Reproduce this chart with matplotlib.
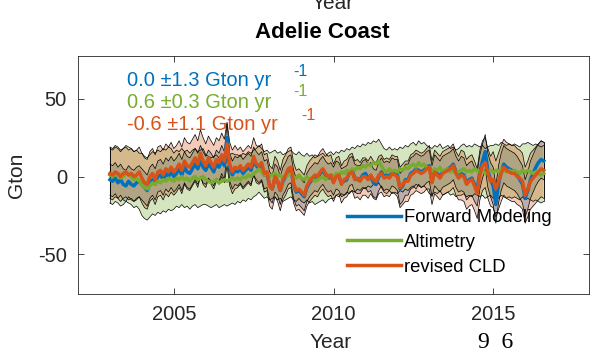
import numpy as np
import matplotlib
matplotlib.use("Agg")
import matplotlib.pyplot as plt

plt.rcParams['font.family'] = ['Liberation Sans', 'DejaVu Sans']
plt.rcParams['axes.unicode_minus'] = False

# Monthly mass anomalies (Gton), Jan 2003 - Aug 2016
start_year = 2003
forward_modeling = [
    -2, -3, -1, -4, -2, -5, -6, -3, -5, -6, -4, -3,
    -5, -7, -9, -4, -2, -5, 0, 1, -2, 2, 0, 3,
    0, 2, 5, 1, 6, 3, 2, 5, 8, 5, 10, 6,
    4, 8, 6, 3, 8, 6, 11, 7, 25, 6, 1, 4,
    3, 5, 2, 4, 6, 4, 10, 7, 5, 7, 1, 2,
    -6, -8, -1, -3, -9, -3, 0, 4, 5, -5, -10, -9,
    -11, -13, -7, -4, -2, 0, -1, 2, 4, 1, -1, 0,
    -3, 1, 0, -4, -3, -2, 3, 4, -1, -2, -2, 1,
    2, -1, 0, -4, -5, 0, 3, 0, 1, 0, 3, 2,
    1, -8, -6, -2, -2, 2, 3, 5, 4, 3, 4, 6,
    7, -3, 4, 2, 0, 3, 4, 5, 6, 8, 3, 0,
    2, 1, -4, -2, -1, -5, -8, 3, 10, 16, 4, -2,
    -6, -18, -5, 3, 8, 6, 5, 4, 3, 1, -2, -5,
    -14, -9, -2, 2, 6, 9, 11, 10,
]
altimetry = [
    1, 0, 2, 1, -1, 0, 2, 1, 0, -2, -1, -3,
    -5, -7, -8, -6, -4, -5, -3, -4, -2, -3, -1, -2,
    -3, -1, -2, 0, -2, -1, -3, -1, 0, -2, -1, 0,
    -2, -3, -4, -3, -2, -4, -3, -2, -3, -2, -1, -2,
    -1, -2, 0, -1, 1, 0, 2, 3, 5, 3, 1, 2,
    0, 1, 2, 0, 1, -1, 0, 1, 2, 0, -1, 1,
    -1, -2, 0, -2, -1, -3, -2, -1, 0, -2, 0, 1,
    0, 2, 1, 3, 2, 4, 3, 5, 4, 6, 5, 7,
    6, 8, 7, 9, 8, 10, 7, 4, 3, 5, 3, 4,
    3, 5, 4, 6, 5, 7, 8, 6, 9, 7, 8, 6,
    4, 3, 5, 4, 6, 3, 4, 5, 3, 4, 2, 3,
    4, 5, 3, 4, 3, 5, 4, 3, 4, 2, 3, 4,
    3, 4, 3, 5, 4, 3, 4, 3, 4, 3, 2, 4,
    3, 4, 3, 2, 3, 2, 1, 2,
]
revised_cld = [
    2, 1, 3, 2, 0, 2, 3, 1, 2, 0, 1, 3,
    -1, -4, -5, 0, 2, -2, 3, 4, 1, 5, 3, 6,
    3, 5, 8, 4, 10, 7, 6, 9, 12, 8, 15, 10,
    7, 12, 9, 6, 11, 9, 14, 10, 21, 8, 3, 6,
    5, 7, 4, 6, 8, 6, 13, 8, 7, 9, 2, 3,
    -6, -8, 0, -3, -9, -2, 1, 5, 6, -4, -9, -8,
    -10, -12, -6, -3, -1, 1, 0, 3, 5, 2, 0, 1,
    -4, 0, 1, -5, -2, -1, 2, 3, -2, -1, -3, 0,
    0, -2, 1, -2, -3, 1, 2, -1, 0, -1, 2, 1,
    0, -7, -5, -3, -3, 1, 2, 4, 3, 2, 3, 5,
    6, -4, 3, 1, -1, 2, 3, 4, 5, 7, 2, -1,
    1, 0, -5, -3, -2, -6, -11, 1, 7, 9, 2, -3,
    -2, -8, -3, 2, 6, 4, 3, 2, 2, 0, -1, -3,
    -12, -8, -3, -1, 1, 3, 5, 4,
]

# Yearly 1-sigma uncertainty (Gton), 2003 - 2016
err_forward = [10, 10, 10, 9, 9, 9, 9, 9, 9, 10, 10, 11, 12, 12]
err_altimetry = [18, 20, 18, 16, 15, 15, 15, 14, 14, 14, 15, 16, 17, 18]
err_cld = [16, 16, 15, 14, 12, 13, 13, 12, 12, 13, 14, 16, 18, 18]

series_names = ['Forward Modeling', 'Altimetry', 'revised CLD']
trend_labels = ['0.0 \u00b11.3 Gton yr', '0.6 \u00b10.3 Gton yr', '-0.6 \u00b11.1 Gton yr']
colors = ['#0072BD', '#77AC30', '#D95319']

n = len(revised_cld)
t = start_year + np.arange(n) / 12.0
year_idx = (np.floor(t) - start_year).astype(int)

values = [np.array(forward_modeling, float), np.array(altimetry, float),
          np.array(revised_cld, float)]
errors = [np.array(err_forward, float)[year_idx],
          np.array(err_altimetry, float)[year_idx],
          np.array(err_cld, float)[year_idx]]

fig = plt.figure(figsize=(5.9, 3.55), dpi=100)
ax = fig.add_axes([78 / 590, 1 - 294 / 355, 511 / 590, (294 - 56) / 355])

for v, e, c in zip(values, errors, colors):
    ax.fill_between(t, v - e, v + e, facecolor=c, alpha=0.3,
                    edgecolor='none', zorder=1)
    ax.plot(t, v + e, color='black', lw=0.5, zorder=2)
    ax.plot(t, v - e, color='black', lw=0.5, zorder=2)
    ax.plot([t[0], t[0]], [v[0] - e[0], v[0] + e[0]], color='black', lw=0.5, zorder=2)
    ax.plot([t[-1], t[-1]], [v[-1] - e[-1], v[-1] + e[-1]], color='black', lw=0.5, zorder=2)

handles = []
for v, c, name in zip(values, colors, series_names):
    h, = ax.plot(t, v, color=c, lw=2.5, zorder=3, label=name)
    handles.append(h)

ax.set_xlim(2002, 2018)
ax.set_ylim(-75.5, 77.5)
ax.set_xticks([2005, 2010, 2015])
ax.set_yticks([-50, 0, 50])
gray = '#262626'
ax.tick_params(direction='in', top=True, right=True, length=4, width=0.6,
               colors=gray, labelsize=14.5, pad=8)
for s in ax.spines.values():
    s.set_color('#262626')
    s.set_linewidth(0.6)
ax.set_ylabel('Gton', fontsize=15, color=gray)
ax.yaxis.set_label_coords(-(78 - 26) / 511, 0.5)

# trend annotations with detached superscripts
text_pos = [(127, 80), (127, 102), (127, 125)]
sup_pos = [(293, 71), (293, 92), (301, 116)]
for (px, py), (sx, sy), lab, c in zip(text_pos, sup_pos, trend_labels, colors):
    fig.text(px / 590, 1 - py / 355, lab, color=c, fontsize=14.5,
             ha='left', va='center')
    fig.text(sx / 590, 1 - sy / 355, '-1', color=c, fontsize=11.5,
             ha='left', va='center')

leg = ax.legend(handles=handles, loc='upper left',
                bbox_to_anchor=((347 - 78) / 511, (294 - 209) / 238),
                frameon=False, fontsize=13.3, handlelength=2.9,
                handletextpad=0.2, labelspacing=0.42, borderpad=0,
                borderaxespad=0)

fig.text(322 / 590, 1 - 32 / 355, 'Adelie Coast', fontsize=16,
         fontweight='bold', ha='center', va='center')
fig.text(333 / 590, 1 - 9 / 355, 'Year', fontsize=15, color=gray,
         ha='center', va='baseline')
fig.text(331 / 590, 1 - 342 / 355, 'Year', fontsize=15, color=gray,
         ha='center', va='center')
fig.text(496 / 590, 1 - 342 / 355, '9  6', fontsize=17,
         family=['Liberation Serif', 'DejaVu Serif'], ha='center', va='center')

fig.savefig('out.png', dpi=100)
